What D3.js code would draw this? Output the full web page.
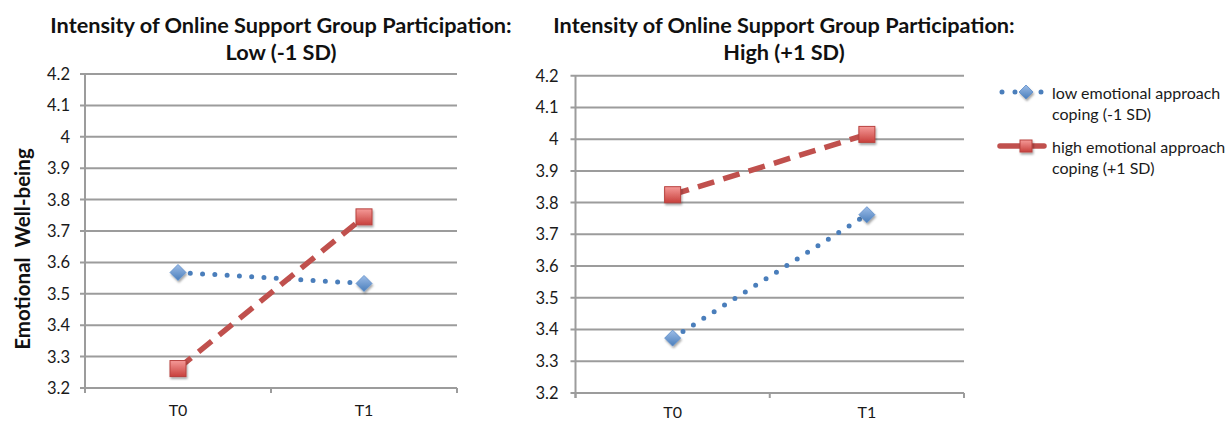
<!DOCTYPE html>
<html><head><meta charset="utf-8">
<script src="https://cdn.jsdelivr.net/npm/d3@7"></script>
<style>body{margin:0;background:#fff} text{font-family:Lato, "Noto Sans", sans-serif}</style>
</head><body><svg id="c" width="1228" height="421"></svg>
<script>
// ---- data ----
const categories = ["T0", "T1"];
const yTickLabels = ["3.2","3.3","3.4","3.5","3.6","3.7","3.8","3.9","4","4.1","4.2"];
const seriesNames = [["low emotional approach", "coping (-1 SD)"], ["high emotional approach", "coping (+1 SD)"]];
const panelTitleLine1 = "Intensity of Online Support Group Participation:";
const panelSubtitles = ["Low (-1 SD)", "High (+1 SD)"];
const yAxisTitle = "Emotional  Well-being";
const lowPanelLowCoping = [3.568, 3.533];
const lowPanelHighCoping = [3.262, 3.745];
const highPanelLowCoping = [3.373, 3.762];
const highPanelHighCoping = [3.825, 4.015];

// ---- layout ----
const svg = d3.select("#c");
const defs = svg.append("defs");
const gB = defs.append("linearGradient").attr("id","gBlue").attr("x1",0).attr("y1",0).attr("x2",0).attr("y2",1);
gB.append("stop").attr("offset","0%").attr("stop-color","#9dbde8");
gB.append("stop").attr("offset","100%").attr("stop-color","#4a7ebb");
const gR = defs.append("linearGradient").attr("id","gRed").attr("x1",0).attr("y1",0).attr("x2",0).attr("y2",1);
gR.append("stop").attr("offset","0%").attr("stop-color","#f59a98");
gR.append("stop").attr("offset","100%").attr("stop-color","#c8403c");
const sh = defs.append("filter").attr("id","shadow").attr("x","-50%").attr("y","-50%").attr("width","200%").attr("height","200%");
sh.append("feDropShadow").attr("dx",1).attr("dy",2).attr("stdDeviation",1.2).attr("flood-color","#000").attr("flood-opacity",0.35);

const panels = [
  {x0:85, x1:457, y0:74, y1:388, titleX:281, sub:panelSubtitles[0], low:lowPanelLowCoping, high:lowPanelHighCoping, tickRight:70, catY:415.5},
  {x0:575.5, x1:964, y0:75.7, y1:393, titleX:784, sub:panelSubtitles[1], low:highPanelLowCoping, high:highPanelHighCoping, tickRight:558.5, catY:417.5}
];

const blue = "#4a7ebb", red = "#c0504d", grid = "#9c9c9c";

function diamond(g, cx, cy, r) {
  g.append("path").attr("d", `M${cx},${cy-r}L${cx+r},${cy}L${cx},${cy+r}L${cx-r},${cy}Z`)
    .attr("fill","url(#gBlue)").attr("stroke","#5b8cc9").attr("stroke-width",0.8).attr("filter","url(#shadow)");
}
function square(g, cx, cy, s) {
  g.append("rect").attr("x",cx-s/2).attr("y",cy-s/2).attr("width",s).attr("height",s)
    .attr("fill","url(#gRed)").attr("stroke","#b8423f").attr("stroke-width",1).attr("filter","url(#shadow)");
}

panels.forEach(p => {
  const g = svg.append("g");
  const x = d3.scaleBand().domain(categories).range([p.x0, p.x1]);
  const xc = c => x(c) + x.bandwidth()/2;
  const y = d3.scaleLinear().domain([3.2, 4.2]).range([p.y1, p.y0]);
  const tickVals = yTickLabels.map(Number);

  g.selectAll("line.grid").data(tickVals).join("line")
    .attr("x1", p.x0 - 5).attr("x2", p.x1)
    .attr("y1", d => y(d)).attr("y2", d => y(d))
    .attr("stroke", grid).attr("stroke-width", 2);
  g.append("line").attr("x1",p.x0).attr("x2",p.x0).attr("y1",p.y0).attr("y2",p.y1+5)
    .attr("stroke", grid).attr("stroke-width", 2);
  const edges = categories.map(c => x(c)).concat([p.x1]);
  g.selectAll("line.xt").data(edges).join("line")
    .attr("x1", d => d).attr("x2", d => d).attr("y1", p.y1).attr("y2", p.y1 + 5)
    .attr("stroke", grid).attr("stroke-width", 2);
  g.selectAll("text.yl").data(yTickLabels).join("text")
    .attr("x", p.tickRight).attr("y", d => y(+d)).attr("dy","0.36em")
    .attr("text-anchor","end").attr("font-size",16.5).attr("fill","#1a1a1a").text(d => d);
  g.selectAll("text.xl").data(categories).join("text")
    .attr("x", d => xc(d)).attr("y", p.catY).attr("text-anchor","middle")
    .attr("font-size",16).attr("fill","#1a1a1a").text(d => d);
  g.append("text").attr("x", p.titleX).attr("y", 33).attr("text-anchor","middle")
    .attr("font-size",21.7).attr("font-weight","bold").attr("fill","#111").text(panelTitleLine1);
  g.append("text").attr("x", p.titleX).attr("y", 59.5).attr("text-anchor","middle")
    .attr("font-size",21.7).attr("font-weight","bold").attr("fill","#111").text(p.sub);

  const line = d3.line().x((d,i) => xc(categories[i])).y(d => y(d));
  g.append("path").attr("d", line(p.low)).attr("fill","none").attr("stroke", blue)
    .attr("stroke-width",5).attr("stroke-linecap","round").attr("stroke-dasharray","0,12.3");
  g.append("path").attr("d", line(p.high)).attr("fill","none").attr("stroke", red)
    .attr("stroke-width",5.5).attr("stroke-dasharray","17,9.5");
  p.low.forEach((v,i) => diamond(g, xc(categories[i]), y(v), 8));
  p.high.forEach((v,i) => square(g, xc(categories[i]), y(v), 16));
});

svg.append("text").attr("transform","translate(30,249) rotate(-90)").attr("text-anchor","middle")
  .style("white-space","pre")
  .attr("font-size",20.5).attr("font-weight","bold").attr("fill","#111").text(yAxisTitle);

const lg = svg.append("g");
const legY = [92, 146];
lg.append("line").attr("x1",1002).attr("x2",1043).attr("y1",legY[0]).attr("y2",legY[0])
  .attr("stroke",blue).attr("stroke-width",5).attr("stroke-linecap","round").attr("stroke-dasharray","0,13");
diamond(lg, 1026, legY[0], 7);
lg.append("line").attr("x1",1000).attr("x2",1044).attr("y1",legY[1]).attr("y2",legY[1])
  .attr("stroke",red).attr("stroke-width",5.5).attr("stroke-linecap","round");
square(lg, 1026, legY[1], 12);
seriesNames.forEach((nm, i) => {
  nm.forEach((t, j) => {
    lg.append("text").attr("x",1052).attr("y", legY[i] + 1 + j*21).attr("dy","0.36em")
      .attr("font-size",16).attr("fill","#1a1a1a").text(t);
  });
});
</script></body></html>
